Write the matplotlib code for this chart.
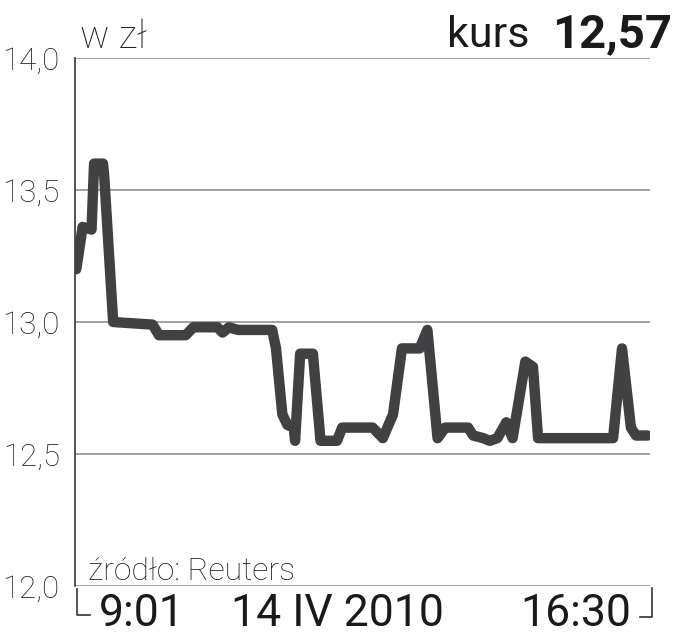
import matplotlib
matplotlib.use("Agg")
import matplotlib.pyplot as plt
from matplotlib.lines import Line2D

# Dane: czas (HH:MM) i kurs w zł
times = ["9:01", "9:06", "9:13", "9:15", "9:22", "9:23", "9:30", "10:01", "10:06",
         "10:27", "10:33", "10:52", "10:56", "11:01", "11:08", "11:35", "11:38",
         "11:43", "11:47", "11:52", "11:53", "11:57", "12:07", "12:13", "12:26",
         "12:30", "12:54", "13:02", "13:10", "13:17", "13:31", "13:37", "13:45",
         "13:51", "14:09", "14:13", "14:21", "14:26", "14:32", "14:39", "14:44",
         "14:54", "15:00", "15:04", "16:03", "16:10", "16:17", "16:21", "16:30"]
prices = [13.20, 13.36, 13.35, 13.60, 13.60, 13.55, 13.00, 12.99, 12.95,
          12.95, 12.98, 12.98, 12.96, 12.98, 12.97, 12.97, 12.90,
          12.65, 12.61, 12.60, 12.55, 12.88, 12.88, 12.55, 12.55,
          12.60, 12.60, 12.56, 12.65, 12.90, 12.90, 12.97, 12.56,
          12.60, 12.60, 12.57, 12.56, 12.55, 12.56, 12.62, 12.56,
          12.85, 12.83, 12.56, 12.56, 12.90, 12.60, 12.57, 12.57]
y_ticks = [12.0, 12.5, 13.0, 13.5, 14.0]
x_labels = ["9:01", "14 IV 2010", "16:30"]
last_price = "12,57"


def to_minutes(t):
    h, m = t.split(":")
    return int(h) * 60 + int(m)


minutes = [to_minutes(t) for t in times]

FONT = ["Roboto", "DejaVu Sans"]
LINE_COLOR = "#414143"
GRID_COLOR = "#9a9a9a"

fig = plt.figure(figsize=(6.74, 6.40), dpi=100)
ax = fig.add_axes([75 / 674, 1 - 586 / 640, 575 / 674, 528 / 640])

ax.plot(minutes, prices, color=LINE_COLOR, lw=7.5,
        solid_joinstyle="round", solid_capstyle="round", zorder=3)

ax.set_xlim(minutes[0] - 1, minutes[-1] + 2)
ax.set_ylim(y_ticks[0], y_ticks[-1])

# siatka pozioma
for v in y_ticks:
    ax.axhline(v, color=GRID_COLOR, lw=1.3, zorder=1)

for s in ["top", "right", "bottom"]:
    ax.spines[s].set_visible(False)
ax.spines["left"].set_color("#333333")
ax.spines["left"].set_linewidth(1.2)

ax.set_xticks([])
ax.set_yticks(y_ticks)
ax.set_yticklabels([f"{v:.1f}".replace(".", ",") for v in y_ticks],
                   family=FONT, fontweight="light", fontsize=22.5, color="#222222")
ax.tick_params(axis="y", length=0, pad=11)

# nawias pod osią czasu
def px(x, y):
    return (x / 674, 1 - y / 640)

br_l = [px(77, 589), px(77, 615), px(90, 615)]
br_r = [px(640, 617), px(652, 617), px(652, 588)]
for pts in (br_l, br_r):
    xs, ys = zip(*pts)
    fig.add_artist(Line2D(xs, ys, color="#333333", lw=1.2))

# podpisy osi czasu
fig.text(99 / 674, 1 - 614 / 640, x_labels[0], family=FONT, fontsize=32,
         ha="left", va="center", color="#1a1a1a")
fig.text(337 / 674, 1 - 614 / 640, x_labels[1], family=FONT, fontsize=32,
         ha="center", va="center", color="#1a1a1a")
fig.text(631 / 674, 1 - 614 / 640, x_labels[2], family=FONT, fontsize=32,
         ha="right", va="center", color="#1a1a1a")

# nagłówki
fig.text(80 / 674, 1 - 48 / 640, "w zł", family=FONT, fontweight="light",
         fontsize=28, ha="left", va="baseline", color="#222222")
fig.text(529 / 674, 1 - 47 / 640, "kurs", family=FONT, fontsize=31,
         ha="right", va="baseline", color="#1a1a1a")
fig.text(672 / 674, 1 - 47 / 640, last_price, family=FONT, fontweight="bold",
         fontsize=34, ha="right", va="baseline", color="#1a1a1a")

fig.text(88 / 674, 1 - 580 / 640, "źródło: Reuters", family=FONT,
         fontweight="light", fontsize=23, ha="left", va="baseline", color="#222222")

fig.savefig("out.png", dpi=100, facecolor="white")
